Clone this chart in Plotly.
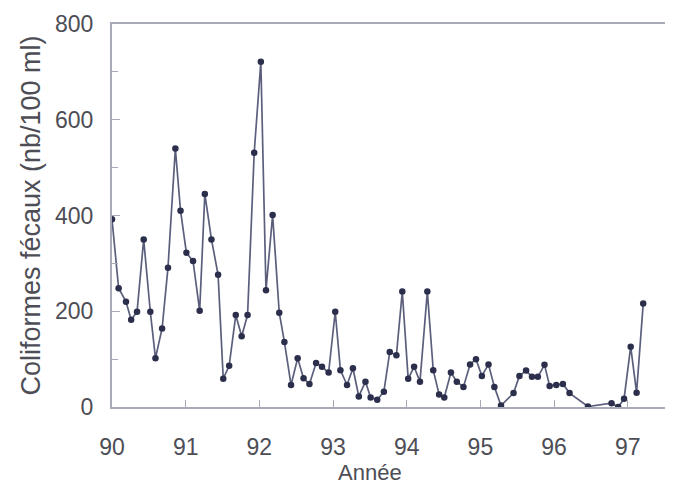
import plotly.graph_objects as go

# decimal year (90 = 1990) and fecal coliform counts (nb/100 ml)
annee = [90.00, 90.09, 90.19, 90.26, 90.34, 90.43, 90.52, 90.59, 90.68, 90.76,
         90.86, 90.93, 91.01, 91.10, 91.19, 91.26, 91.35, 91.44, 91.51, 91.59,
         91.68, 91.76, 91.84, 91.93, 92.02, 92.09, 92.18, 92.27, 92.34, 92.43,
         92.52, 92.60, 92.68, 92.77, 92.85, 92.94, 93.03, 93.10, 93.19, 93.27,
         93.35, 93.44, 93.51, 93.60, 93.69, 93.77, 93.86, 93.94, 94.02, 94.10,
         94.18, 94.28, 94.36, 94.44, 94.51, 94.60, 94.68, 94.77, 94.86, 94.94,
         95.02, 95.11, 95.19, 95.28, 95.45, 95.53, 95.62, 95.70, 95.78, 95.87,
         95.94, 96.03, 96.12, 96.21, 96.46, 96.78, 96.87, 96.95, 97.04, 97.12,
         97.21]
coliformes = [392, 248, 220, 182, 199, 350, 199, 102, 164, 291,
              540, 410, 322, 305, 201, 445, 350, 276, 59, 86,
              192, 148, 192, 531, 721, 244, 401, 197, 136, 46,
              102, 60, 48, 92, 84, 72, 199, 77, 46, 81,
              22, 53, 20, 15, 32, 115, 108, 241, 59, 84,
              53, 241, 77, 26, 20, 72, 53, 42, 89, 100,
              65, 89, 42, 3, 29, 65, 76, 63, 63, 88,
              44, 46, 48, 29, 1, 8, 0, 17, 126, 30,
              216]

x_ticks = [90, 91, 92, 93, 94, 95, 96, 97]
y_ticks = [0, 200, 400, 600, 800]

text_col = "#4d4d55"
axis_col = "#a9aab8"

fig = go.Figure()
fig.add_trace(go.Scatter(
    x=annee, y=coliformes, mode="lines+markers",
    line=dict(color="#5b5f7c", width=1.7),
    marker=dict(color="#2c2f4c", size=6.5, symbol="circle"),
    showlegend=False,
))

# the page body adds an 8px offset, so the figure is sized 665x483
fig.update_layout(
    width=665, height=483,
    margin=dict(l=104, r=4, t=16, b=84),
    paper_bgcolor="white", plot_bgcolor="white",
    font=dict(family="Liberation Sans, Arial, sans-serif", color=text_col),
    xaxis=dict(
        range=[90, 97.56], tickvals=x_ticks, ticktext=[str(v) for v in x_ticks],
        showgrid=False, zeroline=False, automargin=False,
        showline=True, linecolor=axis_col, linewidth=2, mirror=True,
        ticks="inside", ticklen=7, tickcolor=axis_col, tickwidth=1,
        tickfont=dict(size=23, color=text_col), ticklabelstandoff=18,
    ),
    yaxis=dict(
        range=[0, 800], tickvals=y_ticks,
        showgrid=False, zeroline=False, automargin=False,
        showline=True, linecolor=axis_col, linewidth=2, mirror=True,
        ticks="inside", ticklen=8, tickcolor=axis_col, tickwidth=1,
        minor=dict(dtick=100, ticks="inside", ticklen=6, tickcolor=axis_col),
        tickfont=dict(size=23, color=text_col), ticklabelstandoff=12,
    ),
    annotations=[
        dict(text="Année", x=93.5, xref="x", y=-0.172, yref="paper",
             showarrow=False, font=dict(size=22, color=text_col),
             xanchor="center", yanchor="middle"),
        dict(text="Coliformes fécaux (nb/100 ml)", x=-0.147, xref="paper",
             y=0.5, yref="paper", textangle=-90, showarrow=False,
             font=dict(size=27, color=text_col),
             xanchor="center", yanchor="middle"),
    ],
)

fig.write_html("out.html")
